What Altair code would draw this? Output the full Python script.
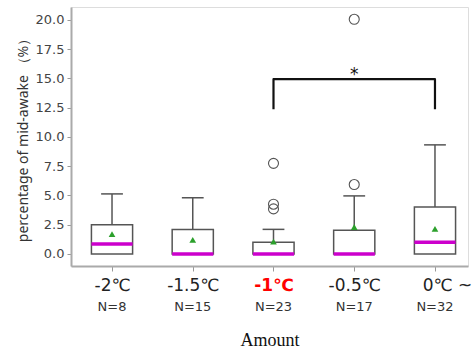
import altair as alt
import pandas as pd

categories = ["-2℃", "-1.5℃", "-1℃", "-0.5℃", "0℃ ~"]
n_labels = ["N=8", "N=15", "N=23", "N=17", "N=32"]
q1 = [0.0, 0.0, 0.0, 0.0, 0.0]
q3 = [2.5, 2.08, 1.0, 2.02, 4.02]
median = [0.85, 0.0, 0.0, 0.0, 1.0]
mean = [1.7, 1.2, 1.05, 2.3, 2.14]
whisker_hi = [5.13, 4.8, 2.1, 4.96, 9.32]
outlier_cat = [2, 2, 2, 3, 3]
outlier_val = [7.74, 4.25, 3.85, 5.93, 20.05]
bracket_x = [2, 2, 4, 4]
bracket_y = [12.37, 14.93, 14.93, 12.37]
y_ticks = [0.0, 2.5, 5.0, 7.5, 10.0, 12.5, 15.0, 17.5, 20.0]

pos = list(range(len(categories)))
df = pd.DataFrame({"pos": pos, "cat": categories, "n": n_labels, "q1": q1, "q3": q3,
                   "median": median, "mean": mean, "whi": whisker_hi})
out_df = pd.DataFrame({"pos": outlier_cat, "val": outlier_val})
br_df = pd.DataFrame({"x": bracket_x, "y": bracket_y, "order": [0, 1, 2, 3]})
star_df = pd.DataFrame({"x": [3], "y": [15.3], "t": ["*"]})

HALF_BOX = 0.255
HALF_CAP = 0.135

label_expr = "[" + ",".join(f"'{c}'" for c in categories) + "][datum.value]"

xscale = alt.Scale(domain=[-0.508, 4.409], nice=False, zero=False)
yscale = alt.Scale(domain=[-1.03, 21.1], nice=False, zero=False)

x_axis = alt.Axis(
    values=pos, labelExpr=label_expr, title="Amount", grid=False,
    labelFontSize=17, labelFont="DejaVu Sans", labelOverlap=False,
    labelColor={"condition": {"test": "datum.value == 2", "value": "#ff0000"}, "value": "#222"},
    labelFontWeight={"condition": {"test": "datum.value == 2", "value": "bold"}, "value": "normal"},
    labelOffset={"condition": {"test": "datum.value == 4", "value": 12}, "value": 0},
    labelPadding=6, tickSize=5, tickColor="#999", domainColor="#aaa",
    domainWidth=2, titleFont="Liberation Serif", titleFontSize=18,
    titleFontWeight="normal", titleColor="#111", titleY=74,
    titleBaseline="middle")

y_axis = alt.Axis(values=y_ticks, format=".1f", labelOverlap=False,
                  title="percentage of mid-awake （%）", grid=False,
                  labelFontSize=13, labelFont="DejaVu Sans", labelColor="#444",
                  tickSize=4, tickColor="#999", labelPadding=3, domainColor="#aaa",
                  domainWidth=2, titleFont="Noto Sans", titleFontSize=14,
                  titleFontWeight="normal", titleColor="#333", titlePadding=5)


def X(field):
    return alt.X(field, type="quantitative", scale=xscale, axis=x_axis)


def Y(field):
    return alt.Y(field, type="quantitative", scale=yscale, axis=y_axis)


base = alt.Chart(df)

boxes = base.transform_calculate(
    xl=f"datum.pos - {HALF_BOX}", xr=f"datum.pos + {HALF_BOX}"
).mark_rect(fill="white", stroke="#555", strokeWidth=1.5).encode(
    x=X("xl"), x2="xr", y=Y("q1"), y2="q3")

whisk = base.mark_rule(color="#555", strokeWidth=1.5).encode(
    x=X("pos"), y=Y("q3"), y2="whi")

caps = base.transform_calculate(
    xl=f"datum.pos - {HALF_CAP}", xr=f"datum.pos + {HALF_CAP}"
).mark_rule(color="#555", strokeWidth=1.5).encode(
    x=X("xl"), x2="xr", y=Y("whi"))

medians = base.transform_calculate(
    xl=f"datum.pos - {HALF_BOX}", xr=f"datum.pos + {HALF_BOX}"
).mark_rule(color="#cc00cc", strokeWidth=3.5).encode(
    x=X("xl"), x2="xr", y=Y("median"))

means = base.mark_point(shape="triangle-up", filled=True, color="#2ca02c", size=45, opacity=1).encode(
    x=X("pos"), y=Y("mean"))

outliers = alt.Chart(out_df).mark_point(shape="circle", filled=False, stroke="#555",
                                        strokeWidth=1.1, size=100, opacity=1).encode(
    x=X("pos"), y=Y("val"))

bracket = alt.Chart(br_df).mark_line(color="#111", strokeWidth=2.2, strokeJoin="round").encode(
    x=X("x"), y=Y("y"), order="order:Q")

star = alt.Chart(star_df).mark_text(fontSize=17, font="DejaVu Sans", color="#111", baseline="middle").encode(
    x=X("x"), y=Y("y"), text="t:N")

nlab = base.mark_text(fontSize=13, font="DejaVu Sans", color="#333", baseline="middle").encode(
    x=X("pos"), y=alt.value(300), text="n:N")

chart = alt.layer(boxes, whisk, caps, medians, means, outliers, bracket, star, nlab).properties(
    width=397, height=259,
    autosize=alt.AutoSizeParams(type="none"),
    padding={"left": 71, "top": 7, "right": 8, "bottom": 85},
).configure_view(stroke="#aaa", strokeWidth=2).configure(background="white")

chart.save("out.html", embed_options={"renderer": "svg", "actions": False})
